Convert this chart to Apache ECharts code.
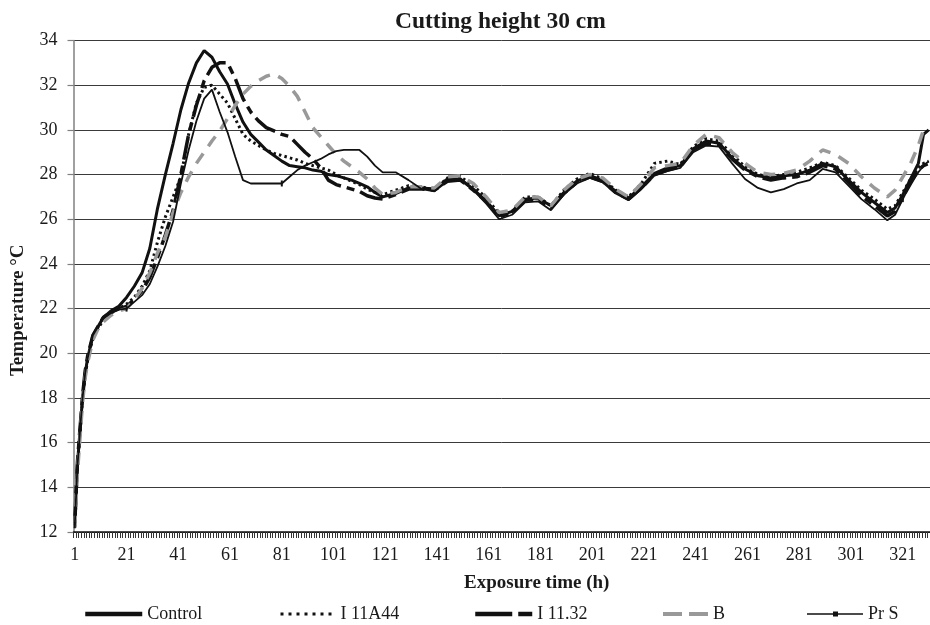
<!DOCTYPE html>
<html>
<head>
<meta charset="utf-8">
<script src="https://cdn.jsdelivr.net/npm/echarts@6/dist/echarts.min.js"></script>
<style>html,body{margin:0;padding:0;background:#fff}#chart{width:930px;height:625px}</style>
</head>
<body>
<div id="chart"></div>
<script>
const hours = [1,2,3,4,5,6,8,10,12,15,18,
  21,24,27,30,33,36,39,42,45,48,51,54,57,60,63,66,69,72,75,78,81,84,87,90,93,96,99,102,105,108,111,114,117,120,
  125,130,135,140,145,150,155,160,165,170,175,180,185,190,195,200,205,210,215,220,225,230,235,240,245,250,255,260,265,270,275,280,285,290,295,300,305,310,315,
  318,321,324,327,329,331];

const control = [12.3,15.0,16.5,18.0,19.1,19.8,20.8,21.2,21.6,21.9,22.1,
  22.5,23.0,23.6,24.7,26.5,28.0,29.4,30.9,32.1,33.0,33.55,33.25,32.6,32.05,31.15,30.35,29.8,29.45,29.1,28.85,28.6,28.4,28.35,28.3,28.2,28.15,28.0,27.95,27.85,27.75,27.6,27.45,27.2,27.0,
  27.15,27.4,27.4,27.35,27.8,27.8,27.35,26.8,26.15,26.35,26.9,26.95,26.6,27.2,27.7,27.95,27.75,27.25,26.95,27.45,28.05,28.3,28.4,29.15,29.5,29.4,28.75,28.25,27.95,27.85,27.95,28.0,28.2,28.5,28.35,27.75,27.2,26.75,26.3,
  26.5,27.1,27.8,28.5,29.8,30.0];

const i11a44 = [12.2,14.8,16.4,17.9,19.0,19.7,20.7,21.1,21.5,21.8,22.0,
  22.2,22.5,23.0,23.7,25.0,26.1,27.0,27.9,29.8,31.2,31.9,32.0,31.6,31.2,30.5,29.8,29.5,29.3,29.1,28.95,28.85,28.75,28.65,28.5,28.4,28.3,28.2,28.0,27.85,27.7,27.55,27.35,27.2,27.1,
  27.3,27.5,27.45,27.3,27.85,27.9,27.5,26.95,26.25,26.35,27.0,27.0,26.6,27.3,27.8,28.05,27.8,27.3,27.0,27.6,28.5,28.6,28.45,29.25,29.6,29.5,28.9,28.35,28.0,27.9,28.0,28.1,28.3,28.55,28.4,27.85,27.3,26.9,26.45,
  26.6,27.2,27.8,28.3,28.5,28.6];

const i1132 = [12.4,15.1,16.6,18.1,19.2,19.9,20.8,21.2,21.6,21.85,22.0,
  22.1,22.4,22.8,23.4,24.3,25.3,26.4,28.0,29.8,31.1,32.2,32.8,33.0,33.0,32.3,31.4,30.8,30.4,30.1,29.95,29.8,29.7,29.35,29.0,28.7,28.3,27.75,27.55,27.45,27.35,27.25,27.05,26.95,26.9,
  27.1,27.35,27.35,27.3,27.7,27.75,27.3,26.8,26.1,26.3,26.85,26.9,26.5,27.15,27.65,27.9,27.7,27.2,26.9,27.4,28.0,28.2,28.35,29.1,29.4,29.35,28.7,28.2,27.9,27.75,27.85,27.9,28.1,28.4,28.25,27.65,27.05,26.6,26.15,
  26.35,27.0,27.6,28.2,28.4,28.5];

const seriesB = [12.2,14.6,16.2,17.8,18.9,19.6,20.6,21.1,21.4,21.7,21.9,
  22.0,22.4,22.9,23.6,24.5,25.2,26.3,27.2,27.9,28.5,29.0,29.5,29.95,30.5,31.1,31.6,31.95,32.2,32.4,32.5,32.3,31.95,31.5,30.8,30.1,29.7,29.3,28.9,28.6,28.35,28.1,27.8,27.4,27.1,
  27.2,27.45,27.45,27.4,27.9,27.95,27.6,27.0,26.3,26.4,27.0,27.0,26.6,27.3,27.8,28.0,27.85,27.35,27.0,27.6,28.3,28.4,28.5,29.3,29.8,29.65,29.0,28.5,28.1,28.0,28.05,28.2,28.6,29.1,28.9,28.5,27.9,27.4,27.0,
  27.3,27.9,28.5,29.3,30.0,30.1];

const prS = [12.3,14.9,16.5,18.0,19.1,19.8,20.8,21.2,21.55,21.8,21.95,
  22.0,22.3,22.6,23.1,23.9,24.8,25.9,27.6,29.1,30.4,31.4,31.8,30.8,29.9,28.8,27.75,27.6,27.6,27.6,27.6,27.6,27.9,28.2,28.4,28.55,28.7,28.9,29.05,29.1,29.1,29.1,28.8,28.4,28.1,
  28.1,27.75,27.35,27.25,27.7,27.75,27.3,26.7,26.0,26.2,26.75,26.8,26.4,27.1,27.6,27.85,27.65,27.15,26.85,27.35,27.95,28.15,28.3,29.0,29.3,29.25,28.5,27.8,27.4,27.2,27.35,27.6,27.75,28.25,28.1,27.5,26.9,26.45,25.95,
  26.2,26.9,27.6,28.1,28.4,28.6];

const seriesNames = ['Control', 'I 11A44', 'I 11.32', 'B', 'Pr S'];
const lastHour = 331;
const categories = Array.from({length: lastHour}, (_, i) => String(i + 1));
const yMin = 12, yMax = 34, yStep = 2;

const FONT = 'Liberation Serif';
const INK = '#1a1a1a';

function pairs(vals) { return hours.map((h, i) => [String(h), vals[i]]); }

const chart = echarts.init(document.getElementById('chart'), null, {renderer: 'canvas'});

function legendItem(name, left, extra) {
  return Object.assign({
    data: [name], left: left, top: 605, padding: 0, itemWidth: 57, itemHeight: 14, itemGap: 0,
    textStyle: {fontFamily: FONT, fontSize: 18, color: INK},
    itemStyle: {opacity: 0},
    selectedMode: false
  }, extra);
}

chart.setOption({
  animation: false,
  backgroundColor: '#fff',
  title: {
    text: 'Cutting height 30 cm', left: 390, top: 5,
    textStyle: {fontFamily: FONT, fontWeight: 'bold', fontSize: 23.5, color: INK}
  },
  grid: {left: 73.5, right: 0, top: 40.5, bottom: 93},
  legend: [
    legendItem('Control', 83, {lineStyle: {width: 4.5}}),
    legendItem('I 11A44', 279, {itemWidth: 55, lineStyle: {width: 3, type: [3, 5]}}),
    legendItem('I 11.32', 473, {lineStyle: {width: 4.5, type: [37, 6, 14, 10]}}),
    legendItem('B', 661, {itemWidth: 45, lineStyle: {width: 4, type: [19, 7]}}),
    legendItem('Pr S', 807, {itemWidth: 56, symbolKeepAspect: true, itemStyle: {opacity: 1},
      icon: 'path://M0,2.2H56V3.8H0Z M26,0.5H31V5.5H26Z'})
  ],
  xAxis: {
    type: 'category', data: categories, boundaryGap: true,
    name: 'Exposure time (h)', nameLocation: 'middle', nameGap: 42,
    nameTextStyle: {fontFamily: FONT, fontWeight: 'bold', fontSize: 19, color: INK, padding: [0, 0, 0, 70]},
    axisLine: {lineStyle: {color: '#111', width: 1.5}},
    axisTick: {show: true, interval: 0, length: 6, lineStyle: {color: '#333', width: 1}},
    axisLabel: {interval: 19, margin: 14, fontFamily: FONT, fontSize: 18, color: INK},
    splitLine: {show: false}
  },
  yAxis: {
    type: 'value', min: yMin, max: yMax, interval: yStep,
    name: 'Temperature °C', nameLocation: 'middle', nameGap: 46, nameRotate: 90,
    nameTextStyle: {fontFamily: FONT, fontWeight: 'bold', fontSize: 19, color: INK, padding: [0, 48, 0, 0]},
    axisLine: {show: true, lineStyle: {color: '#808080', width: 1.5}},
    axisTick: {show: true, length: 6, lineStyle: {color: '#808080', width: 1.2}},
    axisLabel: {margin: 16, fontFamily: FONT, fontSize: 18, color: INK},
    splitLine: {show: true, lineStyle: {color: '#3a3a3a', width: 1}}
  },
  series: [
    {name: seriesNames[0], type: 'line', data: pairs(control), symbol: 'none',
     lineStyle: {color: '#111', width: 3}, itemStyle: {color: '#111'}},
    {name: seriesNames[1], type: 'line', data: pairs(i11a44), symbol: 'none',
     lineStyle: {color: '#111', width: 3, type: [2.5, 3.2]}, itemStyle: {color: '#111'}},
    {name: seriesNames[2], type: 'line', data: pairs(i1132), symbol: 'none',
     lineStyle: {color: '#111', width: 3.5, type: [24, 6, 8, 6]}, itemStyle: {color: '#111'}},
    {name: seriesNames[3], type: 'line', data: pairs(seriesB), symbol: 'none',
     lineStyle: {color: '#999', width: 3.5, type: [12, 9]}, itemStyle: {color: '#999'}},
    {name: seriesNames[4], type: 'line', data: pairs(prS), symbol: 'rect', symbolSize: [2, 6], showSymbol: true,
     lineStyle: {color: '#111', width: 1.8}, itemStyle: {color: '#111'}}
  ]
});
</script>
</body>
</html>
